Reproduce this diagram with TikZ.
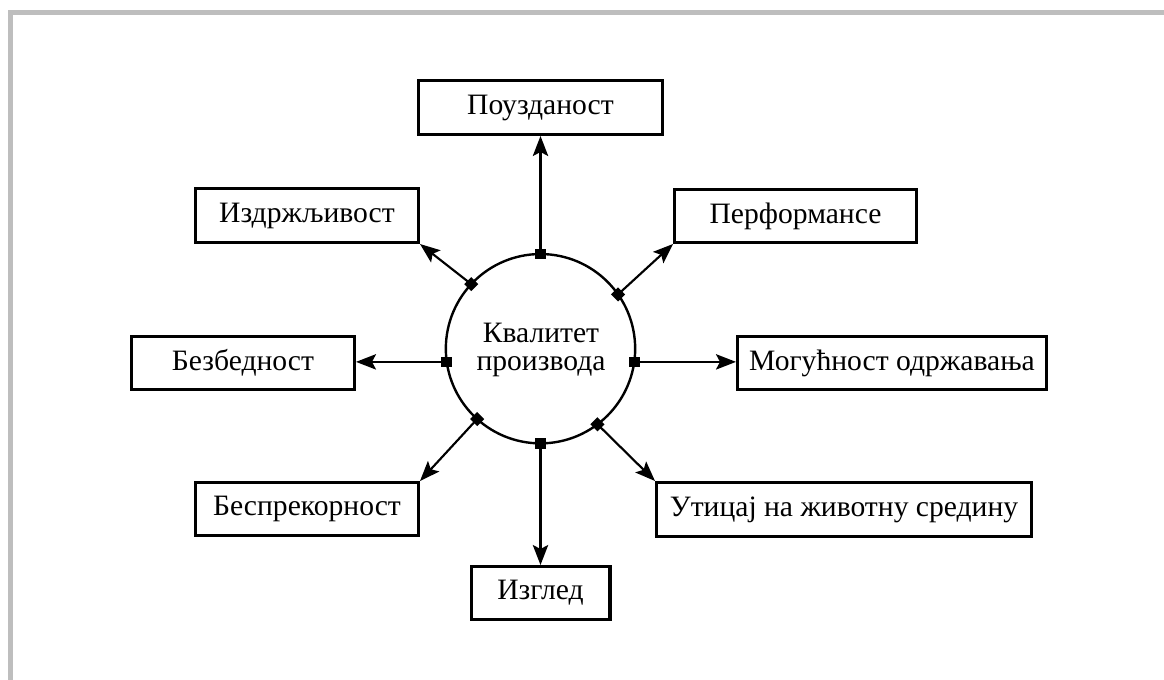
\documentclass[tikz,border=0pt]{standalone}
\usepackage{fontspec}
\setmainfont{Liberation Serif}
\usetikzlibrary{arrows.meta}
\definecolor{framegray}{RGB}{190,190,190}
\begin{document}
\begin{tikzpicture}[x=0.75pt,y=-0.75pt,
  every node/.style={font=\fontsize{22.2}{21}\selectfont},
  box/.style 2 args={draw, line width=2.4pt, inner sep=0pt,
    minimum width=#1*0.75pt-2.4pt, minimum height=#2*0.75pt-2.4pt},
  link/.style={line width=1.6pt, -{Stealth[length=15pt,width=11.5pt,inset=3pt]}},
  sqmark/.style={fill=black, inner sep=0pt, minimum size=8pt},
  dmmark/.style={fill=black, inner sep=0pt, minimum size=7.5pt, rotate=45},
]
\useasboundingbox (0,0) rectangle (1164,679);
% page frame (top and left edges only)
\draw[framegray, line width=3.75pt] (10.5,690) -- (10.5,12) -- (1175,12);

% central circle
\node[circle, draw, line width=1.8pt, minimum size=142pt, inner sep=0pt, outer sep=0pt] (core) at (540.5,348.7) {};
\node[align=center] (title) at (541,350) {Квалитет\\производа};

% surrounding boxes
\node[box={247}{57}] (rel)  at (540.5,107.5) {Поузданост};
\node[box={226}{57}] (dur)  at (307,215.5)   {Издржљивост};
\node[box={245}{56}] (perf) at (795.5,216)   {Перформансе};
\node[box={226}{56}] (saf)  at (243,363)     {Безбедност};
\node[box={312}{56}] (mnt)  at (892,363)     {Могућност одржавања};
\node[box={226}{56}] (flw)  at (307,509)     {Беспрекорност};
\node[box={378}{57}] (env)  at (844,509.5)   {Утицај на животну средину};
\node[box={142}{56}] (look) at (540.5,593)   {Изглед};

% markers on the circle
\node[sqmark] (mN)  at (core.north) {};
\node[sqmark] (mS)  at (core.south) {};
\node[sqmark] (mW)  at (core.188.7) {};
\node[sqmark] (mE)  at (core.-8.7) {};
\node[dmmark] (mNW) at (core.137.5) {};
\node[dmmark] (mNE) at (core.35.7) {};
\node[dmmark] (mSW) at (core.228.9) {};
\node[dmmark] (mSE) at (core.307) {};

% connectors
\draw[link] (mN.center)  -- (mN.center |- rel.south);
\draw[link] (mS.center)  -- (mS.center |- look.north);
\draw[link] (mW.center)  -- (mW.center -| saf.east);
\draw[link] (mE.center)  -- (mE.center -| mnt.west);
\draw[link] (mNW.center) -- (dur.south east);
\draw[link] (mNE.center) -- (perf.south west);
\draw[link] (mSW.center) -- (flw.north east);
\draw[link] (mSE.center) -- (env.north west);
\end{tikzpicture}
\end{document}
